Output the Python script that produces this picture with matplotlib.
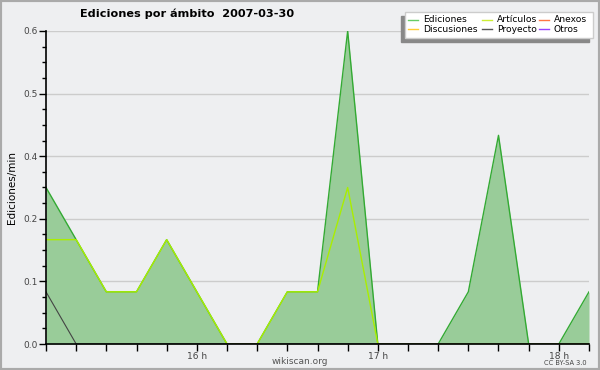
import matplotlib
matplotlib.use('Agg')
import matplotlib.pyplot as plt
import numpy as np
from matplotlib.patches import Rectangle
from matplotlib.lines import Line2D

# minutes after 15:00, one point every 10 min
minutos = [10, 20, 30, 40, 50, 60, 70, 80, 90, 100, 110, 120, 130, 140, 150, 160, 170, 180, 190]
ediciones = [0.3, 0.2, 0.1, 0.1, 0.2, 0.1, 0.0, 0.0, 0.1, 0.1, 0.6, 0.0, 0.0, 0.0, 0.1, 0.4, 0.0, 0.0, 0.1]
articulos = [0.2, 0.2, 0.1, 0.1, 0.2, 0.1, 0.0, 0.0, 0.1, 0.1, 0.3, 0.0, 0.0, 0.0, 0.0, 0.0, 0.0, 0.0, 0.0]
proyecto = [0.1, 0.0, 0.0, 0.0, 0.0, 0.0, 0.0, 0.0, 0.0, 0.0, 0.0, 0.0, 0.0, 0.0, 0.0, 0.0, 0.0, 0.0, 0.0]

hora_ticks = [60, 120, 180]
hora_labels = ['16 h', '17 h', '18 h']
y_ticks = [0.0, 0.12, 0.24, 0.36, 0.48, 0.6]
y_labels = ['0.0', '0.1', '0.2', '0.4', '0.5', '0.6']

leyenda = ['Ediciones', 'Artículos', 'Anexos', 'Discusiones', 'Proyecto', 'Otros']
leyenda_colores = ['#66cc66', '#ccee33', '#ff7744', '#ffcc33', '#555555', '#9944ff']

bg = '#eeeff1'
cond = ['DejaVu Sans Condensed', 'DejaVu Sans']

def main():
    W, H = 600, 370
    fig = plt.figure(figsize=(6, 3.7), dpi=100, facecolor=bg)
    ax = fig.add_axes([46/W, 26/H, 543/W, 313/H])
    ax.set_facecolor(bg)

    x = np.array(minutos)
    ax.fill_between(x, 0, ediciones, color='#99cc99', lw=0, zorder=1)
    ax.plot(x, ediciones, color='#33aa33', lw=1, zorder=2)
    ax.plot(x, articulos, color='#aaee00', lw=1, zorder=2.1)
    ax.plot(x, proyecto, color='#444444', lw=0.8, zorder=2.2)

    ax.set_xlim(10, 190)
    ax.set_ylim(0, 0.6)

    ax.set_yticks(y_ticks)
    ax.set_yticklabels(y_labels)
    ax.set_yticks(np.linspace(0, 0.6, 21), minor=True)
    ax.set_xticks(np.arange(10, 191, 10), minor=True)
    ax.set_xticks(hora_ticks)
    ax.set_xticklabels(hora_labels)

    ax.tick_params(axis='y', which='major', length=5, width=1, labelsize=6.5,
                   labelcolor='#444444', pad=1)
    ax.tick_params(axis='y', which='minor', length=3, width=1)
    ax.tick_params(axis='x', which='both', length=5, width=1, labelsize=6.5,
                   labelcolor='#444444', pad=1)
    for lab in ax.get_xticklabels() + ax.get_yticklabels():
        lab.set_family(cond)

    for y in y_ticks[1:]:
        ax.axhline(y, color='#cccccc', lw=1, zorder=0.5)

    for s in ['top', 'right']:
        ax.spines[s].set_visible(False)
    ax.spines['left'].set_linewidth(1.2)
    ax.spines['bottom'].set_linewidth(1.2)

    fig.text(12/W, 1 - 188/H, 'Ediciones/min', fontsize=7.5, rotation=90,
             ha='center', va='center', family=cond)

    fig.text(187/W, 1 - 14/H, 'Ediciones por ámbito  2007-03-30', fontsize=8.1,
             fontweight='bold', ha='center', va='center', family=cond)
    fig.text(300/W, 1 - 361/H, 'wikiscan.org', fontsize=6.5, color='#555555',
             ha='center', va='center', family=cond)
    fig.text(565/W, 1 - 363/H, 'CC BY-SA 3.0', fontsize=4.8, color='#444444',
             ha='center', va='center', family=cond)

    # legend box with shadow
    fig.patches.append(Rectangle((401/W, 1 - 42/H), 188/W, 26/H,
                                 transform=fig.transFigure, color='#888888', zorder=5))
    fig.patches.append(Rectangle((405/W, 1 - 38/H), 188/W, 26/H, transform=fig.transFigure,
                                 facecolor='white', edgecolor='#cccccc', lw=1, zorder=6))
    col_x = [408, 482, 539]
    row_y = [20, 29]
    for i, (nombre, c) in enumerate(zip(leyenda, leyenda_colores)):
        cx = col_x[i % 3]
        cy = 1 - row_y[i // 3] / H
        fig.lines.append(Line2D([cx/W, (cx + 10)/W], [cy, cy], transform=fig.transFigure,
                                color=c, lw=1, zorder=7))
        fig.text((cx + 15)/W, cy, nombre, fontsize=6.6, ha='left', va='center',
                 family=cond, zorder=7)

    fig.patches.append(Rectangle((0, 0), 1, 1, transform=fig.transFigure, fill=False,
                                 edgecolor='#aaaaaa', lw=3, zorder=10))

    fig.savefig('out.png', dpi=100, facecolor=bg)

if __name__ == "__main__":
    main()
